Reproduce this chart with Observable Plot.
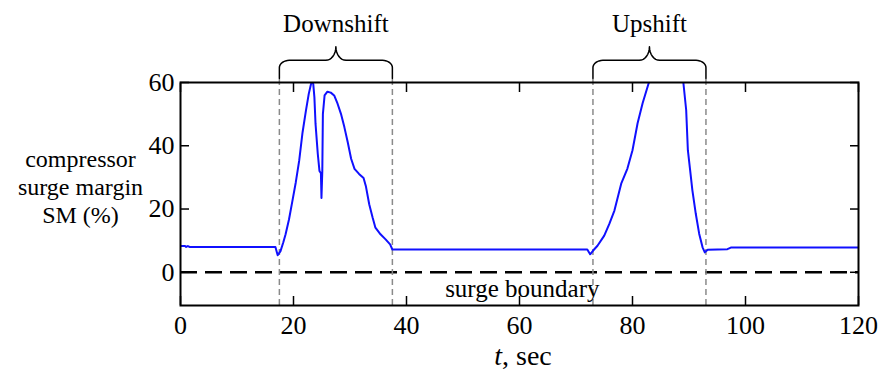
<!DOCTYPE html>
<html><head><meta charset="utf-8">
<script src="https://cdn.jsdelivr.net/npm/d3@7"></script>
<script src="https://cdn.jsdelivr.net/npm/@observablehq/plot@0.6"></script>
<style>
body{margin:0;background:#fff}
svg text {font-family:'Liberation Serif',serif !important}
</style>
</head><body><div id="chart"></div>
<script>
// time (s) and compressor surge margin SM (%)
const time = [0, 0.8, 1.0, 1.3, 1.6, 16.8, 17.2, 17.7, 18.2, 18.6, 19.2, 19.8, 20.4, 21.0, 21.6, 22.2, 22.7, 23.1, 23.3, 23.5, 23.7, 23.9, 24.3, 24.6, 24.85, 24.95, 25.1, 25.2, 25.5, 26.0, 26.6, 27.2, 27.8, 28.4, 29.0, 29.6, 30.2, 30.8, 31.6, 32.4, 32.8, 33.4, 34.0, 34.5, 35.4, 36.3, 37.1, 37.5, 72.0, 72.5, 73.0, 73.8, 75.0, 75.9, 76.8, 78.0, 79.1, 80.0, 80.9, 81.8, 82.9, 83.5, 88.6, 89.0, 89.5, 89.8, 90.2, 90.6, 91.2, 91.8, 92.4, 92.8, 93.3, 96.8, 97.4, 120];
const surgeMargin = [8.3, 8.3, 8.0, 8.3, 8.0, 8.0, 5.4, 6.7, 9.5, 12, 16.7, 22.5, 28.4, 35.2, 44.2, 51.1, 56.4, 59.5, 60.5, 59.5, 55.3, 46.9, 37.4, 32, 31.3, 23.5, 32, 50, 55.9, 57.1, 56.8, 55.9, 53.3, 50.1, 45.9, 41.1, 35.9, 32.7, 31.1, 29.8, 27.3, 21.5, 17.3, 14.1, 12, 10.4, 8.8, 7.2, 7.2, 5.7, 6.8, 8.4, 11.6, 15.3, 19.5, 28, 32.8, 38.6, 47.1, 53.5, 60, 64, 64, 60, 51.3, 38.6, 32.3, 25.9, 18.5, 12.2, 7.9, 6.3, 7.1, 7.3, 7.8, 7.8];

// gear-shift intervals
const shiftNames = ["Downshift", "Upshift"];
const shiftStart = [17.5, 73.0];
const shiftEnd = [37.5, 93.0];

// ticks
const xTicks = [0, 20, 40, 60, 80, 100, 120];
const yTicks = [0, 20, 40, 60];

const yMin = -10.5, yMax = 60;
const surgeBoundary = 0;
const serifFont = "Liberation Serif";

const series = time.map((t, i) => ({t, sm: surgeMargin[i]}));
const shifts = shiftNames.map((name, i) => ({name, a: shiftStart[i], b: shiftEnd[i], m: (shiftStart[i] + shiftEnd[i]) / 2}));

// curly brace outline built from each interval
const yBot = 61.3, yH = 67.0, yTip = 71.3;
const braces = [];
shifts.forEach((s, k) => {
  const rt = 1.75, rv = 2.3, rtT = 1.8, rvT = yTip - yH;
  const pts = [];
  pts.push([s.a, yBot]);
  for (let j = 0; j <= 8; j++) { const th = Math.PI - j * Math.PI / 16; pts.push([s.a + rt + rt * Math.cos(th), yH - rv + rv * Math.sin(th)]); }
  for (let j = 0; j <= 8; j++) { const th = -Math.PI / 2 + j * Math.PI / 16; pts.push([s.m - rtT + rtT * Math.cos(th), yH + rvT + rvT * Math.sin(th)]); }
  for (let j = 0; j <= 8; j++) { const th = Math.PI + j * Math.PI / 16; pts.push([s.m + rtT + rtT * Math.cos(th), yH + rvT + rvT * Math.sin(th)]); }
  for (let j = 0; j <= 8; j++) { const th = Math.PI / 2 - j * Math.PI / 16; pts.push([s.b - rt + rt * Math.cos(th), yH - rv + rv * Math.sin(th)]); }
  pts.push([s.b, yBot]);
  pts.forEach(([x, y]) => braces.push({id: k, x, y}));
});

const plot = Plot.plot({
  width: 883,
  height: 373,
  marginLeft: 180,
  marginRight: 25,
  marginTop: 82,
  marginBottom: 68,
  style: {fontFamily: serifFont, fontSize: "26px", color: "black", background: "white"},
  x: {domain: [0, 120]},
  y: {domain: [yMin, yMax]},
  marks: [
    Plot.ruleY([surgeBoundary], {stroke: "black", strokeWidth: 2.5, strokeDasharray: "17,8"}),
    Plot.ruleX(shifts.flatMap(s => [s.a, s.b]), {y1: yMin, y2: yBot, stroke: "#8a8a8a", strokeWidth: 1.5, strokeDasharray: "6,4"}),
    Plot.line(series, {x: "t", y: "sm", stroke: "#1010ff", strokeWidth: 2, clip: true}),
    Plot.line(braces, {x: "x", y: "y", z: "id", stroke: "black", strokeWidth: 1.5}),
    Plot.text(shifts, {x: "m", y: 78.4, text: "name", fontSize: 25, fontFamily: serifFont, lineAnchor: "middle"}),
    Plot.text(["surge boundary"], {x: 60.5, y: -5.2, text: d => d, fontSize: 25, fontFamily: serifFont, lineAnchor: "middle"}),
    Plot.text(["compressor\nsurge margin\nSM (%)"], {frameAnchor: "left", y: 27.2, dx: -100, text: d => d, fontSize: 24, fontFamily: serifFont, lineHeight: 1.17, textAnchor: "middle", lineAnchor: "middle"}),
    Plot.frame({stroke: "black", strokeWidth: 2}),
    Plot.axisX({anchor: "bottom", ticks: xTicks, tickSize: -9, tickPadding: 19, strokeWidth: 1.5, label: null, fontSize: 26, fontFamily: serifFont}),
    Plot.axisX({anchor: "top", ticks: xTicks, tickSize: -9, tickFormat: () => "", strokeWidth: 1.5, label: null}),
    Plot.axisY({anchor: "left", ticks: yTicks, tickSize: -9, tickPadding: 15, strokeWidth: 1.5, label: null, fontSize: 26, fontFamily: serifFont}),
    Plot.axisY({anchor: "right", ticks: yTicks, tickSize: -9, tickFormat: () => "", strokeWidth: 1.5, label: null})
  ]
});
document.getElementById("chart").appendChild(plot);

// x-axis label with italic t
const xs = plot.scale("x");
const svg = d3.select(plot);
svg.attr("font-family", serifFont);
const lab = svg.append("text")
  .attr("x", xs.apply(60) + 4)
  .attr("y", 365)
  .attr("text-anchor", "middle")
  .attr("font-size", 28)
  .attr("font-family", serifFont)
  .attr("fill", "black");
lab.append("tspan").attr("font-style", "italic").text("t");
lab.append("tspan").text(", sec");
svg.selectAll("text").attr("font-family", serifFont);
</script>
</body></html>
